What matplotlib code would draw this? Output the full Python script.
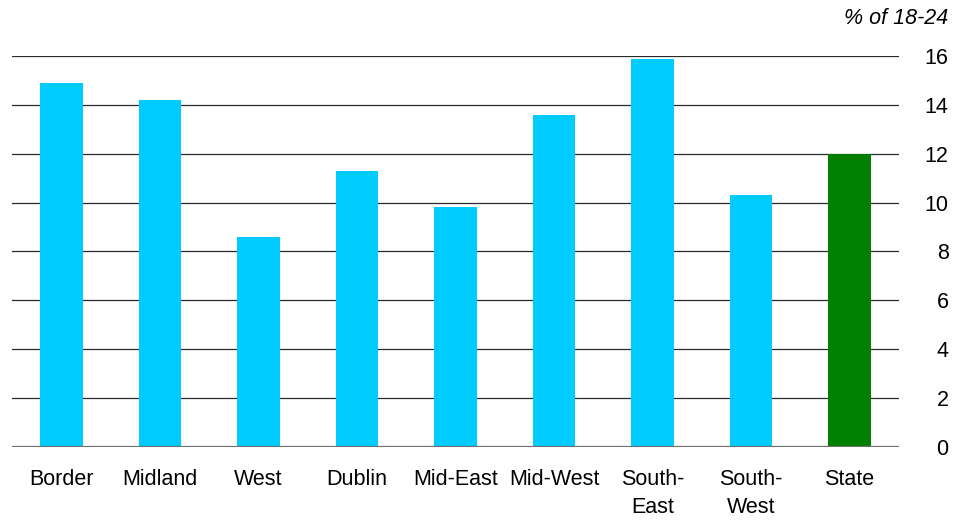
import matplotlib
matplotlib.use("Agg")
import numpy as np
from matplotlib import pyplot as plt

plt.rcParams['font.family'] = ['Liberation Sans', 'DejaVu Sans']

regions = ["Border", "Midland", "West", "Dublin", "Mid-East", "Mid-West",
           "South-\nEast", "South-\nWest", "State"]
values = [14.9, 14.2, 8.6, 11.3, 9.8, 13.6, 15.9, 10.3, 12.0]
yticks = [0, 2, 4, 6, 8, 10, 12, 14, 16]

colors = ['#00CCFF'] * (len(regions) - 1) + ['#007F00']

fig = plt.figure(figsize=(9.56, 5.2), dpi=100)
ax = fig.add_axes([0.013, 0.141, 0.927, 0.751])

x = np.arange(len(regions))
ax.bar(x, values, width=0.43, color=colors, zorder=2)

# horizontal grid, zero line a bit lighter
for t in yticks[1:]:
    ax.axhline(t, color='#2a2a2a', lw=0.9, zorder=1)
ax.axhline(0, color='#707070', lw=1.6, zorder=3)

ax.set_xlim(-0.5, len(regions) - 0.5)
ax.set_ylim(0, 16)
ax.set_xticks(x)
ax.set_xticklabels(regions, fontsize=15.5, linespacing=1.45)
ax.set_yticks(yticks)
ax.yaxis.tick_right()
ax.tick_params(axis='y', length=0, pad=36, labelsize=15.5)
for lab in ax.get_yticklabels():
    lab.set_horizontalalignment('right')
ax.tick_params(axis='x', length=0, pad=16)

for s in ax.spines.values():
    s.set_visible(False)

fig.text(0.992, 0.965, "% of 18-24", ha='right', va='center',
         fontsize=15.5, style='italic')

fig.savefig("out.png", dpi=100)
